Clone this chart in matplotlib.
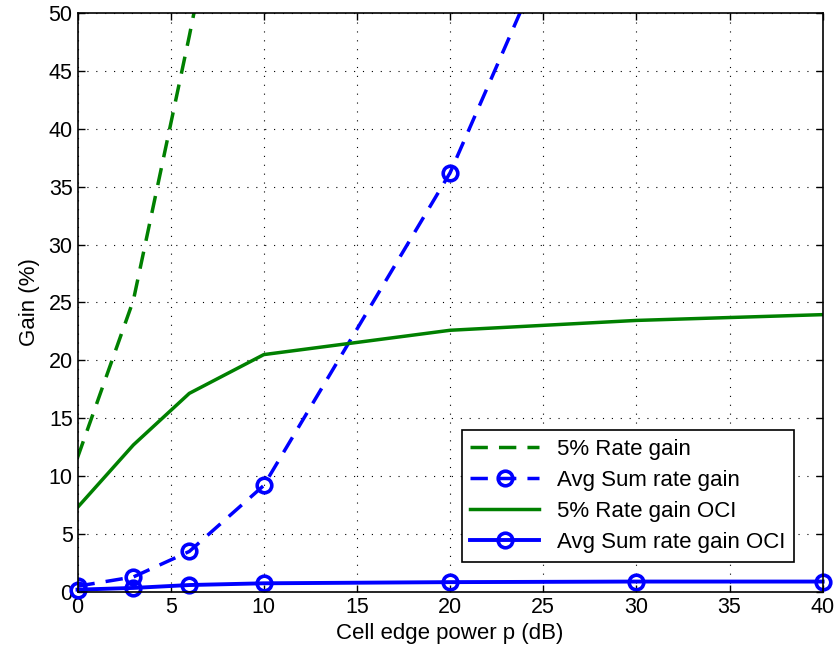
import matplotlib
matplotlib.use('Agg')
import matplotlib.pyplot as plt

# cell edge power p (dB)
power = [0, 3, 6, 10, 20, 30, 40]

# gains in percent
rate5_gain = [11.6, 25.2, 48.0, 80.0, 150.0, 220.0, 290.0]
avg_sum_gain = [0.5, 1.3, 3.5, 9.2, 36.2, 73.0, 110.0]
rate5_gain_oci = [7.3, 12.7, 17.15, 20.5, 22.6, 23.45, 23.95]
avg_sum_gain_oci = [0.2, 0.35, 0.6, 0.75, 0.85, 0.9, 0.9]

legend_labels = ['5% Rate gain', 'Avg Sum rate gain',
                 '5% Rate gain OCI', 'Avg Sum rate gain OCI']

plt.rcParams['font.family'] = ['Liberation Sans', 'DejaVu Sans']
plt.rcParams['font.size'] = 16

green = '#008000'
blue = '#0000ff'

fig = plt.figure(figsize=(8.38, 6.59), dpi=100)
ax = fig.add_axes([0.0925, 0.1017, 0.8892, 0.8786])

ax.plot(power, rate5_gain, color=green, lw=2.5, dashes=(5, 3.2),
        label=legend_labels[0])
ax.plot(power, avg_sum_gain, color=blue, lw=2.5, dashes=(5, 3.2),
        marker='o', ms=10.5, mfc='none', mew=2.6, label=legend_labels[1])
ax.plot(power, rate5_gain_oci, color=green, lw=2.5, label=legend_labels[2])
ax.plot(power, avg_sum_gain_oci, color=blue, lw=2.8, marker='o', ms=10.5,
        mfc='none', mew=2.6, label=legend_labels[3], clip_on=False)

ax.set_xlim(0, 40)
ax.set_ylim(0, 50)
ax.set_xticks(range(0, 41, 5))
ax.set_yticks(range(0, 51, 5))
ax.grid(True, linestyle=(0, (1, 7)), color='black', lw=0.8)
ax.tick_params(direction='in', top=True, right=True, length=5, width=1,
               labelsize=15.5)
for s in ax.spines.values():
    s.set_linewidth(1.2)

ax.set_xlabel('Cell edge power p (dB)', fontsize=16, labelpad=4)
ax.set_ylabel('Gain (%)', fontsize=16, labelpad=6)

leg = ax.legend(loc='lower right', bbox_to_anchor=(0.962, 0.052),
                borderaxespad=0, fancybox=False, framealpha=1,
                edgecolor='black', handlelength=3.1, fontsize=16,
                labelspacing=0.45, borderpad=0.4)
leg.get_frame().set_linewidth(1.2)

plt.savefig('out.png', dpi=100)
